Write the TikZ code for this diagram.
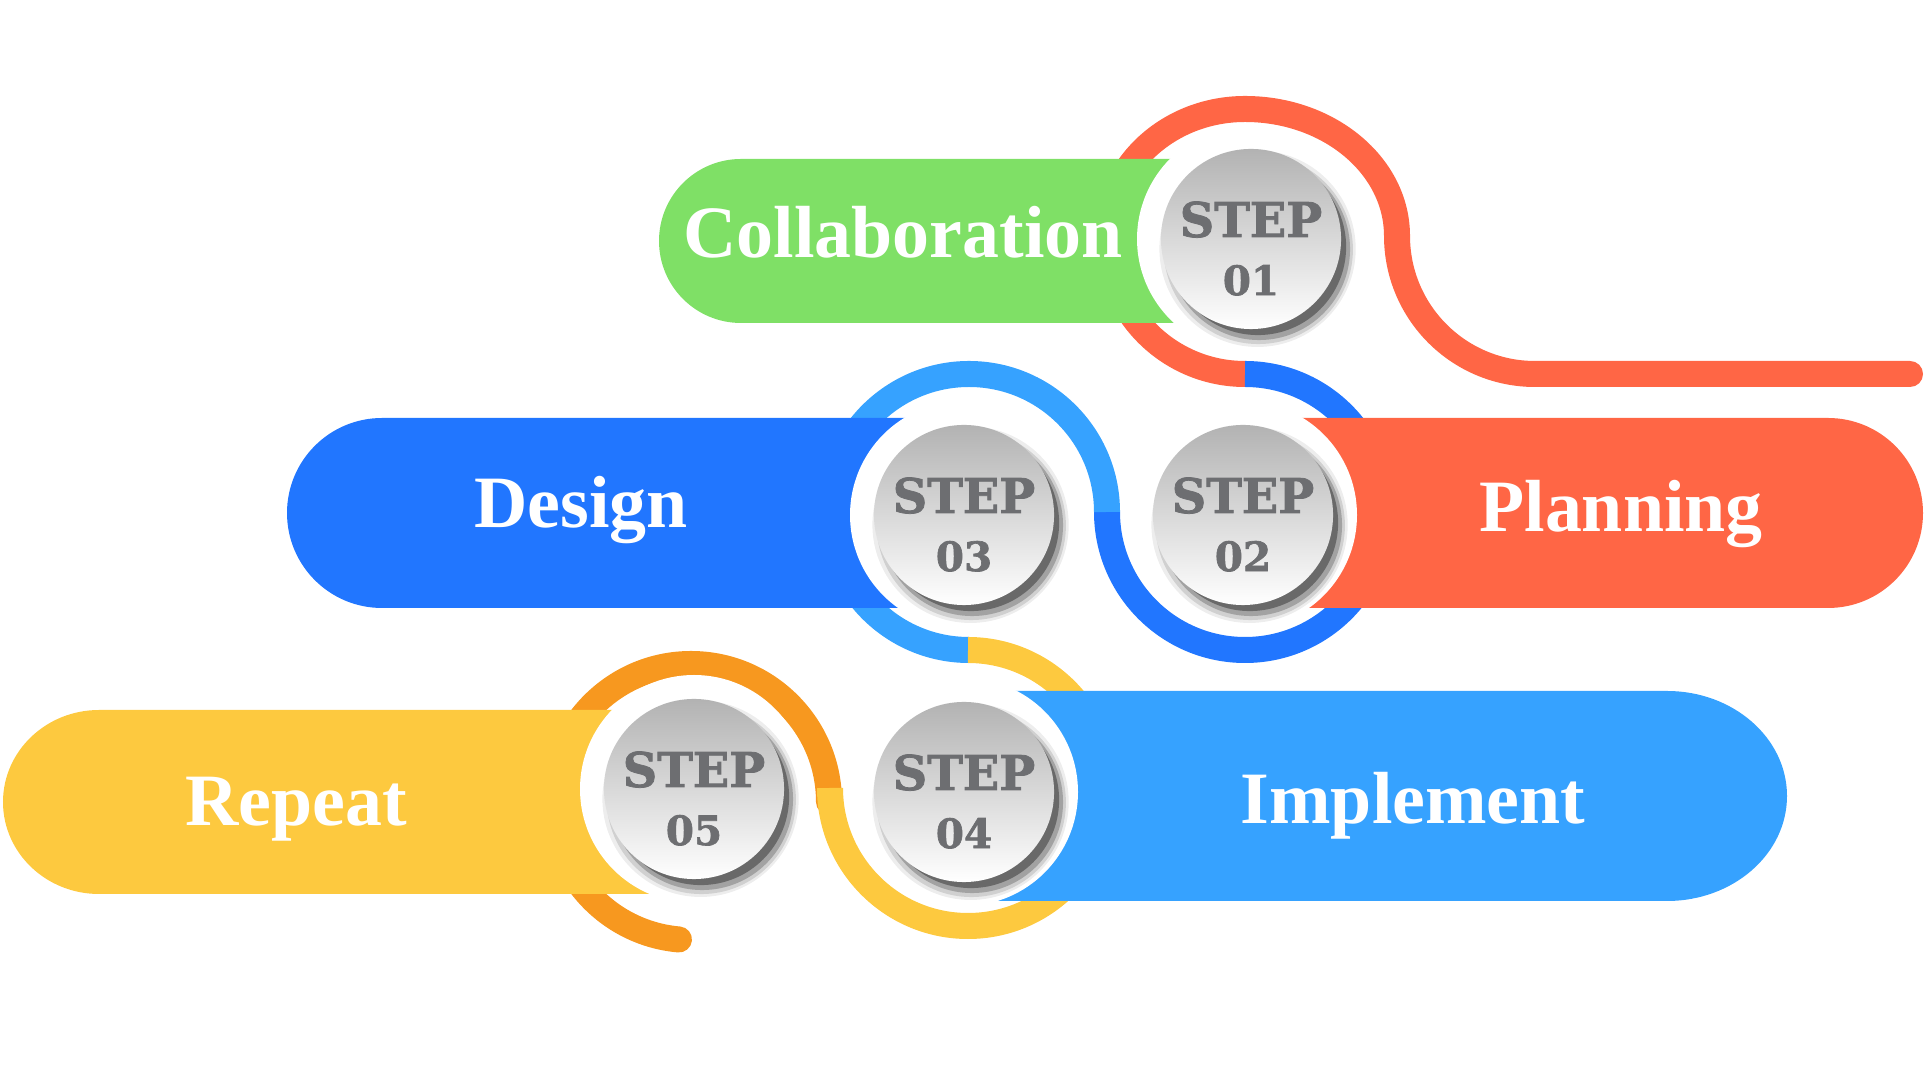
\documentclass[tikz,border=0pt]{standalone}
\usepackage{fontspec}
\setmainfont{Liberation Serif}
\newfontfamily\stepfont{DejaVu Serif Bold}[FakeBold=1.6]
\usetikzlibrary{shadows}

\definecolor{collabgreen}{HTML}{7FE066}
\definecolor{planred}{HTML}{FF6645}
\definecolor{designblue}{HTML}{2176FF}
\definecolor{implblue}{HTML}{36A2FF}
\definecolor{repyellow}{HTML}{FDC93F}
\definecolor{loopgold}{HTML}{F7981F}
\definecolor{stepgray}{HTML}{6D6E71}

\begin{document}
\begin{tikzpicture}[x=0.01cm, y=0.01cm,
    ring/.style={draw=#1, line width=0.26cm},
    bar/.style={fill=#1},
    halo/.style={fill=white},
    title/.style={anchor=base, inner sep=0pt, text=white, font=\bfseries\fontsize{21}{24}\selectfont},
    disc/.style={circle, minimum size=1.8cm, inner sep=0pt, top color=black!30, bottom color=white,
        general shadow={fill=black, opacity=0.07, shadow xshift=0.06cm, shadow yshift=-0.09cm, shadow scale=1.09},
        general shadow={fill=black, opacity=0.12, shadow xshift=0.07cm, shadow yshift=-0.10cm, shadow scale=1.05},
        general shadow={fill=black, opacity=0.22, shadow xshift=0.08cm, shadow yshift=-0.10cm, shadow scale=1.01},
        general shadow={fill=black, opacity=0.35, shadow xshift=0.07cm, shadow yshift=-0.08cm, shadow scale=0.98}},
    stepword/.style={anchor=base, inner sep=0pt, text=stepgray, font=\stepfont\fontsize{13.6}{16}\selectfont},
    stepnum/.style={anchor=base, inner sep=0pt, text=stepgray, font=\stepfont\fontsize{11.5}{13}\selectfont}
]
    \useasboundingbox (0,0) rectangle (1927,1082);

    % Anneaux
    \draw[ring=planred, line cap=round] (1245,708) arc[start angle=-90, end angle=-180, radius=138]
        arc[start angle=180, end angle=90, x radius=138, y radius=127]
        arc[start angle=90, end angle=0, x radius=152, y radius=127]
        arc[start angle=180, end angle=270, radius=138] -- (1910,708);
    \draw[ring=designblue] (1245,708) arc[start angle=90, end angle=-180, radius=138];
    \draw[ring=implblue] (1107,570) arc[start angle=0, end angle=270, radius=138];
    \draw[ring=loopgold, line cap=round] (829,280) arc[start angle=0, end angle=265, radius=138];
    \draw[ring=repyellow] (968,432) arc[start angle=90, end angle=-180, radius=138];

    % Bandes
    \fill[bar=collabgreen] (1245,923) -- (741,923) arc[start angle=90, end angle=270, radius=82] -- (1245,759) -- cycle;
    \fill[bar=planred] (1245,664) -- (1828,664) arc[start angle=90, end angle=-90, radius=95] -- (1245,474) -- cycle;
    \fill[bar=designblue] (968,664) -- (382,664) arc[start angle=90, end angle=270, radius=95] -- (968,474) -- cycle;
    \fill[bar=implblue] (968,391) -- (1667,391) arc[start angle=90, end angle=-90, x radius=120, y radius=105] -- (968,181) -- cycle;
    \fill[bar=repyellow] (691,372) -- (99,372) arc[start angle=90, end angle=270, x radius=96, y radius=92] -- (691,188) -- cycle;

    \node[title] (collab) at (903,824) {Collaboration};
    \node[title] (plan) at (1621,550) {Planning};
    \node[title] (design) at (581,554) {Design};
    \node[title] (impl) at (1413,258) {Implement};
    \node[title] (repeat) at (296,256) {Repeat};

    % Cercles
    \fill[halo] (1251,843) circle[radius=114];
    \fill[halo] (1243,567) circle[radius=114];
    \fill[halo] (964,567) circle[radius=114];
    \fill[halo] (964,290) circle[radius=114];
    \fill[halo] (694,293) circle[radius=114];

    \node[disc] (s1) at (1251,843) {};
    \node[disc] (s2) at (1243,567) {};
    \node[disc] (s3) at (964,567) {};
    \node[disc] (s4) at (964,290) {};
    \node[disc] (s5) at (694,293) {};

    \node[stepword] (s1w) at ([yshift=0.02cm]s1.center) {STEP};
    \node[stepnum] (s1n) at ([yshift=-0.56cm]s1.center) {01};
    \node[stepword] (s2w) at ([yshift=0.02cm]s2.center) {STEP};
    \node[stepnum] (s2n) at ([yshift=-0.56cm]s2.center) {02};
    \node[stepword] (s3w) at ([yshift=0.02cm]s3.center) {STEP};
    \node[stepnum] (s3n) at ([yshift=-0.56cm]s3.center) {03};
    \node[stepword] (s4w) at ([yshift=0.02cm]s4.center) {STEP};
    \node[stepnum] (s4n) at ([yshift=-0.56cm]s4.center) {04};
    \node[stepword] (s5w) at ([yshift=0.02cm]s5.center) {STEP};
    \node[stepnum] (s5n) at ([yshift=-0.56cm]s5.center) {05};
\end{tikzpicture}
\end{document}
